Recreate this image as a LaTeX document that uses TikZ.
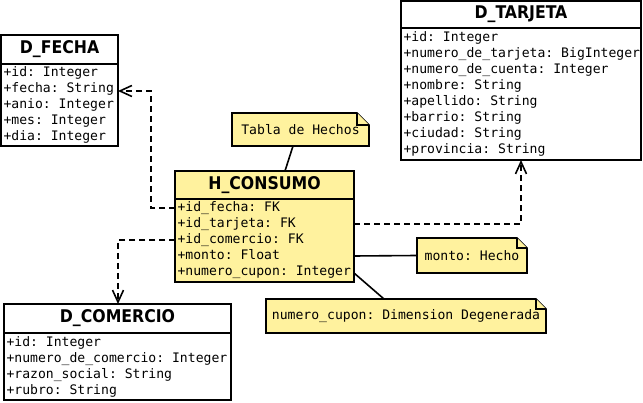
\documentclass[tikz,border=0pt]{standalone}
\usepackage{fontspec}
\usetikzlibrary{arrows.meta}
\newfontfamily\monof{DejaVu Sans Mono}
\newfontfamily\titlef{DejaVu Sans Condensed}
\definecolor{umly}{RGB}{255,242,158}
\frenchspacing
\newcommand{\msp}{\hphantom{x}}
\pgfdeclarelayer{bg}
\pgfsetlayers{bg,main}
\newcommand{\drawnote}[2]{%
  \begin{pgfonlayer}{bg}
  \filldraw[notefr] (#1.south west) -- (#1.north west) -- ([xshift=-#2pt]#1.north east) -- ([yshift=-#2pt]#1.north east) -- (#1.south east) -- cycle;
  \draw[notefr] ([xshift=-#2pt]#1.north east) |- ([yshift=-#2pt]#1.north east);
  \end{pgfonlayer}}
\begin{document}
\begin{tikzpicture}[x=1pt,y=-1pt,
  ttl/.style={draw,line width=1.6pt,anchor=north west,outer sep=0pt,inner sep=0pt,
    font=\titlef\bfseries\fontsize{17.5}{20}\selectfont},
  body/.style={draw,line width=1.6pt,anchor=north west,outer sep=0pt,align=left,
    font=\frenchspacing\monof\fontsize{13.1}{16}\selectfont,inner xsep=2.5pt,inner ysep=0pt},
  notetxt/.style={inner sep=0pt,outer sep=0pt,font=\frenchspacing\monof\fontsize{13.1}{16}\selectfont},
  notefr/.style={draw=black,fill=umly,line width=1.6pt,line join=miter},
  dep/.style={draw,line width=1.6pt,dash pattern=on 6pt off 4pt,
    -{Straight Barb[length=12pt,width=11pt,line width=1.6pt]}},
  lnk/.style={draw,line width=1.6pt}]
\useasboundingbox (0,0) rectangle (643,403);

% D_FECHA
\node[ttl,minimum width=117pt,minimum height=29pt] (dft) at (1,35) {D\_FECHA};
\node[body,minimum width=117pt,text width=112pt,minimum height=82pt] (dfb) at (dft.south west)
  {+id:\msp Integer\\+fecha:\msp String\\+anio:\msp Integer\\+mes:\msp Integer\\+dia:\msp Integer};

% D_TARJETA
\node[ttl,minimum width=240pt,minimum height=27pt] (dtt) at (401,1) {D\_TARJETA};
\node[body,minimum width=240pt,text width=235pt,minimum height=132pt] (dtb) at (dtt.south west)
  {+id:\msp Integer\\+numero\_de\_tarjeta:\msp BigInteger\\+numero\_de\_cuenta:\msp Integer\\+nombre:\msp String\\+apellido:\msp String\\+barrio:\msp String\\+ciudad:\msp String\\+provincia:\msp String};

% H_CONSUMO
\node[ttl,fill=umly,minimum width=179pt,minimum height=28pt] (hct) at (175,171) {H\_CONSUMO};
\node[body,fill=umly,minimum width=179pt,text width=174pt,minimum height=83pt] (hcb) at (hct.south west)
  {+id\_fecha:\msp FK\\+id\_tarjeta:\msp FK\\+id\_comercio:\msp FK\\+monto:\msp Float\\+numero\_cupon:\msp Integer};

% D_COMERCIO
\node[ttl,minimum width=227pt,minimum height=29pt] (dct) at (4,304) {D\_COMERCIO};
\node[body,minimum width=227pt,text width=222pt,minimum height=67pt] (dcb) at (dct.south west)
  {+id:\msp Integer\\+numero\_de\_comercio:\msp Integer\\+razon\_social:\msp String\\+rubro:\msp String};

% notes
\node[notetxt,minimum width=137pt,minimum height=33pt] (tn) at (300.5,129.5) {Tabla de Hechos};
\drawnote{tn}{12}
\node[notetxt,minimum width=110pt,minimum height=35pt] (mn) at (472,255.5) {monto: Hecho};
\drawnote{mn}{10}
\node[notetxt,minimum width=280pt,minimum height=34pt] (cn) at (406,316) {\raisebox{-2pt}{numero\_cupon: Dimension Degenerada}};
\drawnote{cn}{10}

% note links
\draw[lnk] (tn.south -| 293,0) -- (hct.north -| 285,0);
\draw[lnk] (hcb.east |- 0,256) -- (mn.west);
\draw[lnk] (hcb.east |- 0,273) -- (cn.north -| 384,0);

% dependencies
\draw[dep] (hcb.west |- 0,208) -- ++(-24,0) |- (dfb.east |- 0,91);
\draw[dep] (hcb.east |- 0,224) -| (dtb.south -| 521,0);
\draw[dep] (hcb.west |- 0,240) -| (dct.north -| 118,0);
\end{tikzpicture}
\end{document}
